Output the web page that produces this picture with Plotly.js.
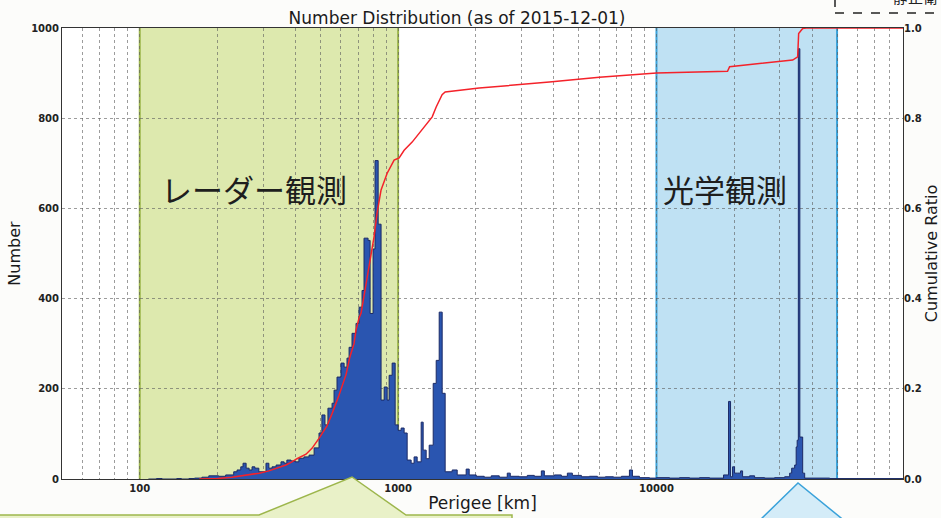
<!DOCTYPE html>
<html>
<head>
<meta charset="utf-8">
<script src="https://cdn.plot.ly/plotly-3.0.1.min.js"></script>
<style>
  html, body { margin: 0; padding: 0; background: #fcfcfa; }
  #chart { width: 941px; height: 518px; }
</style>
</head>
<body>
<div id="chart"></div>
<script>
// ---------------- DATA ----------------
// Histogram bin edges (perigee, km) and object counts per bin
const binEdgesKm = [
  108,116,122,139,145,155,163,174,185,202,
  215,231,238,246,251,258,265,272,279,289,
  308,316,325,337,352,362,371,385,399,413,
  432,452,473,494,507,521,535,555,565,580,
  601,618,634,646,663,687,706,725,738,765,
  779,800,814,837,859,883,907,923,948,974,
  1000,1027,1055,1084,1123,1153,1185,1228,1250,1284,
  1319,1367,1404,1442,1481,1521,1619,1693,1834,1884,
  2006,2154,2293,2463,2645,2717,2944,3162,3366,3584,
  3681,4024,4283,4519,4725,5122,5500,5907,6343,6813,
  7317,7858,8071,8592,9395,10000,11230,12279,13427,14678,
  16049,18179,19009,19352,19701,20058,20602,21160,21544,22930,
  23979,26217,28666,31343,32774,33364,34269,34730,35042,35410,
  35890,36808,37470,46820,90000
];
const objectCount = [
  0,1,0,1,0,1,2,4,7,6,
  9,16,20,27,35,24,20,27,24,16,
  35,24,27,31,38,35,42,40,38,46,
  49,53,69,102,142,120,157,168,197,226,
  257,248,268,292,323,345,381,418,534,529,
  367,510,706,565,175,204,175,230,257,120,
  108,113,102,42,35,49,38,126,64,45,
  75,212,263,370,190,16,20,9,22,9,
  6,4,7,4,13,6,5,8,6,18,
  7,9,6,13,8,5,6,4,5,4,
  6,20,6,3,2,3,2,3,2,3,
  2,9,172,5,27,13,13,18,5,7,
  3,2,3,5,13,24,31,71,86,954,
  93,13,2,1
];
// Cumulative ratio curve
const cumKm = [
  170,200,227,258,290,316,350,368,388,406,
  440,464,494,508,530,555,590,629,650,675,
  687,706,719,745,772,790,807,829,859,907,
  965,1009,1055,1133,1206,1284,1355,1404,1442,1480,
  1521,2060,3850,6010,10000,14680,18840,19190,25070,33660,
  35200,35510,36810,38000,90000
];
const cumRatio = [
  0,0.001,0.004,0.008,0.013,0.018,0.026,0.031,0.038,0.045,
  0.055,0.068,0.090,0.100,0.117,0.145,0.185,0.232,0.270,0.300,
  0.330,0.357,0.368,0.420,0.470,0.505,0.537,0.590,0.641,0.678,
  0.707,0.712,0.729,0.747,0.767,0.785,0.803,0.825,0.840,0.852,
  0.858,0.867,0.880,0.891,0.900,0.902,0.904,0.914,0.921,0.929,
  0.936,0.988,0.999,1.0,1.0
];
// Axis ticks and labels
const xTickVals = [100, 1000, 10000];
const xTickText = ['100', '1000', '10000'];
const yTickVals = [0, 200, 400, 600, 800, 1000];
const y2TickVals = [0, 0.2, 0.4, 0.6, 0.8, 1.0];
const y2TickText = ['0.0', '0.2', '0.4', '0.6', '0.8', '1.0'];
const radarBand = [100, 1000];
const opticalBand = [10000, 50000];
const titleText = 'Number Distribution (as of 2015-12-01)';
const radarLabel = 'レーダー観測';
const opticalLabel = '光学観測';

// ---------------- LAYOUT HELPERS ----------------
const L = 62, R = 903, T = 28, B = 479;
const px = x => (x - L) / (R - L);
const py = y => (B - y) / (B - T);

const minorGrid = [];
[10, 100, 1000, 10000].forEach(d => {
  for (let k = 2; k <= 9; k++) {
    const v = k * d;
    if (v >= 50 && v <= 90000) minorGrid.push(v);
  }
});

const font = 'DejaVu Sans, Verdana, sans-serif';
const cjk = 'Noto Sans CJK JP, sans-serif';
const gridCol = 'rgba(90,90,90,0.6)';

const histY = objectCount.concat([objectCount[objectCount.length - 1]]);

const traces = [
  {
    type: 'scatter', mode: 'lines',
    x: binEdgesKm, y: histY,
    line: { shape: 'hv', color: '#1b2a66', width: 1 },
    fill: 'tozeroy', fillcolor: '#2a55b0',
    xaxis: 'x', yaxis: 'y', hoverinfo: 'skip'
  },
  {
    type: 'scatter', mode: 'lines',
    x: cumKm, y: cumRatio,
    line: { color: '#f4222a', width: 1.5 },
    xaxis: 'x', yaxis: 'y2', hoverinfo: 'skip'
  }
];

const shapes = [
  // radar band
  { type: 'rect', xref: 'x', yref: 'paper', x0: radarBand[0], x1: radarBand[1], y0: 0, y1: 1,
    fillcolor: '#dde9ae', line: { width: 0 }, layer: 'below' },
  { type: 'line', xref: 'x', yref: 'paper', x0: radarBand[0], x1: radarBand[0], y0: 0, y1: 1,
    line: { color: '#9db64c', width: 2 }, layer: 'below' },
  { type: 'line', xref: 'x', yref: 'paper', x0: radarBand[1], x1: radarBand[1], y0: 0, y1: 1,
    line: { color: '#9db64c', width: 2 }, layer: 'below' },
  // optical band
  { type: 'rect', xref: 'x', yref: 'paper', x0: opticalBand[0], x1: opticalBand[1], y0: 0, y1: 1,
    fillcolor: '#bfe1f3', line: { width: 0 }, layer: 'below' },
  { type: 'line', xref: 'x', yref: 'paper', x0: opticalBand[0], x1: opticalBand[0], y0: 0, y1: 1,
    line: { color: '#3aa2da', width: 2 }, layer: 'below' },
  { type: 'line', xref: 'x', yref: 'paper', x0: opticalBand[1], x1: opticalBand[1], y0: 0, y1: 1,
    line: { color: '#3aa2da', width: 2 }, layer: 'below' },
  // bottom-left callout (green)
  { type: 'path', xref: 'paper', yref: 'paper',
    path: `M ${px(-5)},${py(515)} L ${px(259)},${py(515)} L ${px(352)},${py(477)} L ${px(406)},${py(515)} L ${px(512)},${py(515)} L ${px(512)},${py(530)} L ${px(-5)},${py(530)} Z`,
    fillcolor: '#e9f1c8', line: { color: '#9db64c', width: 1.5 }, layer: 'above' },
  // bottom-right callout (blue)
  { type: 'path', xref: 'paper', yref: 'paper',
    path: `M ${px(758)},${py(522)} L ${px(798)},${py(483)} L ${px(846)},${py(522)} Z`,
    fillcolor: '#d4ecf8', line: { color: '#3aa2da', width: 1.5 }, layer: 'above' },
  // top-right dashed box (cut off)
  { type: 'line', xref: 'paper', yref: 'paper', x0: px(835), x1: px(835), y0: py(-2), y1: py(13),
    line: { color: '#222', width: 1.5, dash: 'dash' } },
  { type: 'line', xref: 'paper', yref: 'paper', x0: px(835), x1: px(945), y0: py(13), y1: py(13),
    line: { color: '#222', width: 1.5, dash: 'dash' } }
];

const annotations = [
  { xref: 'paper', yref: 'paper', x: px(254), y: py(188), text: radarLabel, showarrow: false,
    font: { family: cjk, size: 31, color: '#1e1e1e' }, xanchor: 'center', yanchor: 'middle' },
  { xref: 'paper', yref: 'paper', x: px(725), y: py(188), text: opticalLabel, showarrow: false,
    font: { family: cjk, size: 31, color: '#1e1e1e' }, xanchor: 'center', yanchor: 'middle' },
  { xref: 'paper', yref: 'paper', x: px(915), y: py(-3), text: '静止衛', showarrow: false,
    font: { family: cjk, size: 15, color: '#222' }, xanchor: 'center', yanchor: 'middle' }
];

const layout = {
  width: 941, height: 518,
  margin: { l: L, r: 941 - R, t: T, b: 518 - B, pad: 0 },
  paper_bgcolor: '#fcfcfa',
  plot_bgcolor: '#ffffff',
  showlegend: false,
  title: {
    text: titleText, xref: 'container', yref: 'container',
    x: 457 / 941, y: 1 - 18 / 518, xanchor: 'center', yanchor: 'middle',
    font: { family: font, size: 17, color: '#1a1a1a' }
  },
  xaxis: {
    type: 'log', range: [Math.log10(50), Math.log10(90000)],
    tickvals: xTickVals, ticktext: xTickText,
    tickfont: { family: font, size: 10, color: '#222', weight: 'bold' },
    ticks: '', showgrid: true, gridcolor: gridCol, griddash: 'dot', gridwidth: 1,
    minor: { tickvals: minorGrid, showgrid: true, gridcolor: gridCol, griddash: 'dot', gridwidth: 1, ticks: '' },
    showline: true, linecolor: '#333', linewidth: 1, mirror: true, zeroline: false,
    title: { text: 'Perigee [km]', font: { family: font, size: 17, color: '#1a1a1a' }, standoff: 4 }
  },
  yaxis: {
    range: [0, 1000], tickvals: yTickVals,
    tickfont: { family: font, size: 10, color: '#222', weight: 'bold' },
    ticks: '', showgrid: true, gridcolor: gridCol, griddash: 'dot', gridwidth: 1,
    showline: true, linecolor: '#333', linewidth: 1, mirror: true, zeroline: false,
    title: { text: 'Number', font: { family: font, size: 16, color: '#1a1a1a' }, standoff: 6 }
  },
  yaxis2: {
    overlaying: 'y', side: 'right', range: [0, 1],
    tickvals: y2TickVals, ticktext: y2TickText,
    tickfont: { family: font, size: 10, color: '#222', weight: 'bold' },
    ticks: '', showgrid: false, zeroline: false, showline: false,
    title: { text: 'Cumulative Ratio', font: { family: font, size: 16, color: '#1a1a1a' }, standoff: 3 }
  },
  shapes: shapes,
  annotations: annotations
};

Plotly.newPlot('chart', traces, layout, { staticPlot: true, displayModeBar: false });
</script>
</body>
</html>
